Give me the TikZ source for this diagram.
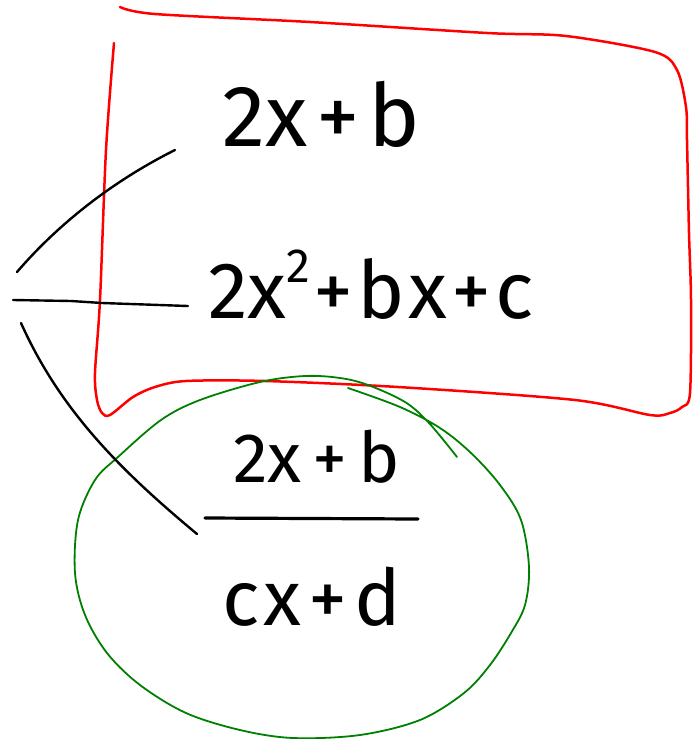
\documentclass[tikz,border=0pt]{standalone}
\usepackage{fontspec}
\setmainfont{Fira Sans}
\newcommand{\gap}[1]{\hspace{#1pt}}
\begin{document}
\begin{tikzpicture}[x=1pt,y=-1pt,
  ink/.style={black,line width=2.4pt,line cap=round,line join=round},
  redpen/.style={red,line width=2.5pt,line cap=round,line join=round},
  greenpen/.style={green!50!black,line width=1.8pt,line cap=round,line join=round},
  expr/.style={inner sep=0pt,anchor=base west,text=black}]
\useasboundingbox (0,0) rectangle (694,739);

% expressions
\node[expr,font=\fontsize{87}{90}\selectfont] (lin) at (222,146)
  {2x\gap{9}+\gap{9}b};
\node[expr,font=\fontsize{80}{84}\selectfont] (quad) at (208,318)
  {2x\raisebox{0.45em}{\fontsize{48}{50}\selectfont 2}\gap{3}+\gap{4}b\gap{4}x\gap{4}+\gap{4}c};
\node[expr,font=\fontsize{70}{74}\selectfont] (num) at (233,482)
  {2x\gap{11}+\gap{11}b};
\node[expr,font=\fontsize{78}{80}\selectfont] (den) at (222,625)
  {c\gap{4}x\gap{7}+\gap{7}d};
\coordinate (barL) at (205,518);
\coordinate (barR) at (418,519);
\draw[ink,line width=3.2pt] (barL) -- (barR);

% red frame around the two polynomials
\draw[redpen] plot[smooth,tension=0.5] coordinates {
  (114,43) (106,150) (100,300) (95,373) (97,400) (102,413) (110,415)
  (133,397) (155,387) (186,381) (265,381) (398,387) (575,400) (650,415)
  (670,413) (682,407) (690,393) (691,300) (689,233) (687,140) (686,107)
  (677,70) (655,52) (566,36) (487,33) (310,22) (155,14) (120,7)};

% green loop around the fraction
\draw[greenpen] plot[smooth,tension=0.55] coordinates {
  (348,388) (400,407) (440,428) (471,453) (500,485) (521,520) (529,567)
  (525,605) (511,633) (490,665) (464,693) (420,720) (360,735) (293,738)
  (240,730) (186,713) (140,685) (107,653) (85,615) (75,573) (78,520)
  (95,480) (118,457) (161,420) (200,400) (260,382) (305,376) (340,378)
  (368,385) (405,402) (429,423) (457,457)};

% branches from the left
\coordinate (o1) at (17,272);
\coordinate (o2) at (13,300);
\coordinate (o3) at (21,323);
\coordinate (e1) at (175,150);
\coordinate (e2) at (188,306);
\coordinate (e3) at (197,534);
\draw[ink] (o1) .. controls (60,222) and (115,180) .. (e1);
\draw[ink] (o2) -- (71,301) -- (102,303) -- (e2);
\draw[ink] (o3) .. controls (60,410) and (120,470) .. (e3);
\end{tikzpicture}
\end{document}
